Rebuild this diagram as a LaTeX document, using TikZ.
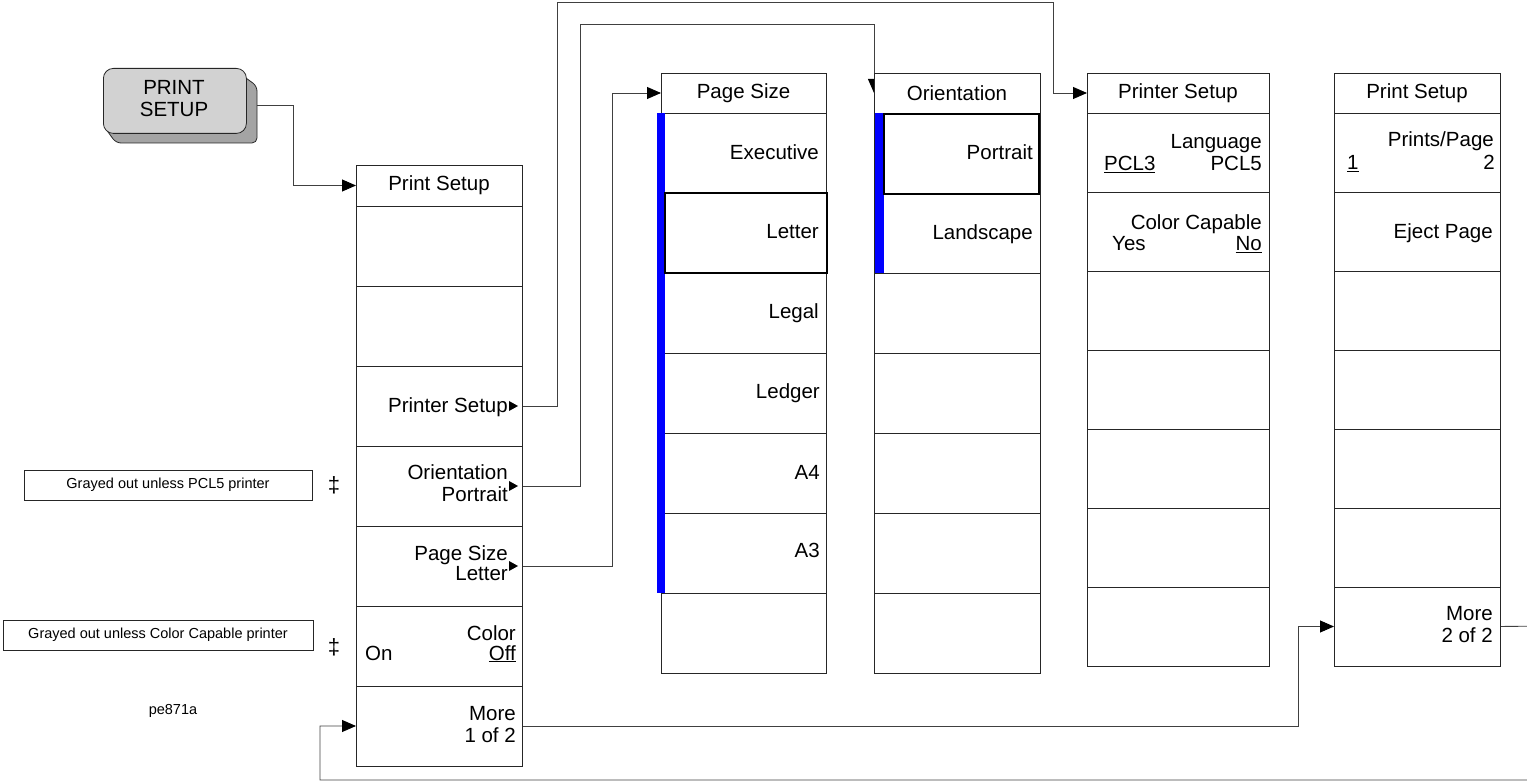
\documentclass[tikz,border=0pt]{standalone}
\usepackage{fontspec}
\setmainfont{Liberation Sans}
\usetikzlibrary{arrows.meta,calc}
\definecolor{keyface}{HTML}{D2D2D2}
\definecolor{keyshade}{HTML}{A4A4A4}
\definecolor{selblue}{HTML}{0000FF}
\pgfdeclarelayer{bg}
\pgfsetlayers{bg,main}
\begin{document}
\begin{tikzpicture}[x=1pt,y=-1pt,
  every node/.style={font=\fontsize{20.5}{22}\selectfont},
  cell/.style={draw=black!85, line width=0.9pt, fill=white, anchor=north west, inner sep=0pt, outer sep=0pt},
  conn/.style={draw=black!75, line width=0.9pt},
  tip/.style={-{Triangle[length=14pt,width=12pt,color=black]}},
  rt/.style={anchor=base east, inner sep=0pt},
  lt/.style={anchor=base west, inner sep=0pt},
  note/.style={draw=black!85, line width=0.8pt, font=\fontsize{14.5}{16}\selectfont, inner sep=0pt},
  small/.style={font=\fontsize{14.5}{16}\selectfont, inner sep=0pt},
  dag/.style={font=\fontsize{22}{24}\selectfont, inner sep=0pt},
  submark/.style={fill=black}
]
\useasboundingbox (0,0) rectangle (1527,783);
\clip (0,0) rectangle (1527,783);

% ---------- hardkey ----------
\fill[keyshade, draw=black!85, line width=0.8pt, rounded corners=5pt]
  (232,68) -- (257,86) -- (257,143) -- (116,143) -- (103,125) -- cycle;
\node[draw=black!85, line width=0.8pt, fill=keyface, rounded corners=10pt,
  minimum width=143pt, minimum height=65pt, anchor=north west, inner sep=0pt] (key) at (103,68) {};
\node[inner sep=0pt, anchor=base] (keyt1) at (174,95) {PRINT};
\node[inner sep=0pt, anchor=base] (keyt2) at (174,117) {SETUP};
\coordinate (keyout) at (257,105);

% ---------- left menu ----------
\node[cell, minimum width=166pt, minimum height=41pt] (L0) at (356,165) {Print Setup};
\foreach \i in {1,...,7}
  \node[cell, minimum width=166pt, minimum height=80pt] (L\i) at (356,{206+80*(\i-1)}) {};
\node[rt] (l3a) at (508,413) {Printer Setup};
\node[rt] (l4a) at (508,480) {Orientation};
\node[rt] (l4b) at (508,501) {Portrait};
\node[rt] (l5a) at (508,560) {Page Size};
\node[rt] (l5b) at (508,580) {Letter};
\node[rt] (l6a) at (516,640) {Color};
\node[rt] (l6b) at (516,660) {\underline{Off}};
\node[lt] (l6c) at (365,660) {On};
\node[rt] (l7a) at (516,720) {More};
\node[rt] (l7b) at (516,742) {1 of 2};
\fill[submark] (509,401) -- (518,406) -- (509,411) -- cycle;
\fill[submark] (509,481) -- (518,486) -- (509,491) -- cycle;
\fill[submark] (509,561) -- (518,566) -- (509,571) -- cycle;

% ---------- Page Size menu ----------
\node[cell, minimum width=165pt, minimum height=40pt] (P0) at (661,73) {Page Size};
\foreach \i in {1,...,7}
  \node[cell, minimum width=165pt, minimum height=80pt] (P\i) at (661,{113+80*(\i-1)}) {};
\fill[selblue] (657,113) rectangle (665,593);
\draw[line width=2pt] (665,193) rectangle (827,273);
\node[rt] (p1t) at (819,160) {Executive};
\node[rt] (p2t) at (819,239) {Letter};
\node[rt] (p3t) at (819,319) {Legal};
\node[rt] (p4t) at (820,399) {Ledger};
\node[rt] (p5t) at (820,479) {A4};
\node[rt] (p6t) at (820,558) {A3};

% ---------- Orientation menu ----------
\node[cell, minimum width=166pt, minimum height=40pt] (O0) at (874,73) {Orientation};
\foreach \i in {1,...,7}
  \node[cell, minimum width=166pt, minimum height=80pt] (O\i) at (874,{113+80*(\i-1)}) {};
\fill[selblue] (875,113) rectangle (884,273);
\draw[line width=2pt] (884,114) rectangle (1039,194);
\node[rt] (o1t) at (1033,160) {Portrait};
\node[rt] (o2t) at (1033,240) {Landscape};

% ---------- Printer Setup menu ----------
\node[cell, minimum width=182pt, minimum height=40pt] (S0) at (1087,73) {Printer Setup};
\foreach \i in {1,...,7}
  \node[cell, minimum width=182pt, minimum height=79pt] (S\i) at (1087,{113+79*(\i-1)}) {};
\node[rt] (s1a) at (1262,149) {Language};
\node[lt] (s1b) at (1104,171) {\underline{PCL3}};
\node[rt] (s1c) at (1262,171) {PCL5};
\node[rt] (s2a) at (1262,230) {Color Capable};
\node[lt] (s2b) at (1112,251) {Yes};
\node[rt] (s2c) at (1262,251) {\underline{No}};

% ---------- right Print Setup menu ----------
\node[cell, minimum width=166pt, minimum height=40pt] (R0) at (1334,73) {Print Setup};
\foreach \i in {1,...,7}
  \node[cell, minimum width=166pt, minimum height=79pt] (R\i) at (1334,{113+79*(\i-1)}) {};
\node[rt] (r1a) at (1494,147) {Prints/Page};
\node[lt] (r1b) at (1347,170) {\underline{1}};
\node[rt] (r1c) at (1495,170) {2};
\node[rt] (r2a) at (1493,239) {Eject Page};
\node[rt] (r7a) at (1493,620) {More};
\node[rt] (r7b) at (1493,642) {2 of 2};

% ---------- notes ----------
\node[note, minimum width=288pt, minimum height=30pt] (n1) at (168,485) {Grayed out unless PCL5 printer};
\node[note, minimum width=310pt, minimum height=30pt] (n2) at (158,635) {Grayed out unless Color Capable printer};
\node[dag] (d1) at (334,485) {‡};
\node[dag] (d2) at (334,647) {‡};
\node[small] (fig) at (173,711) {pe871a};

% ---------- connectors ----------
\begin{pgfonlayer}{bg}
\draw[conn,tip] (keyout) -- (293,105) |- (L0.west);
\draw[conn,tip] (L3.east) -- (557,406) -- (557,2) -- (1053,2) |- (S0.west);
\draw[conn,tip] (L4.east) -- (580,486) -- (580,24) -| ($(O0.north west)+(0,20)$);
\draw[conn,tip] (L5.east) -- (612,566) |- (P0.west);
\draw[conn,tip] (L7.east) -- (1298,726) |- (R7.west);
\draw[conn,tip] (R7.east) -- (1545,626) -- (1545,780) -- (320,780) |- (L7.west);
\end{pgfonlayer}
\end{tikzpicture}
\end{document}
